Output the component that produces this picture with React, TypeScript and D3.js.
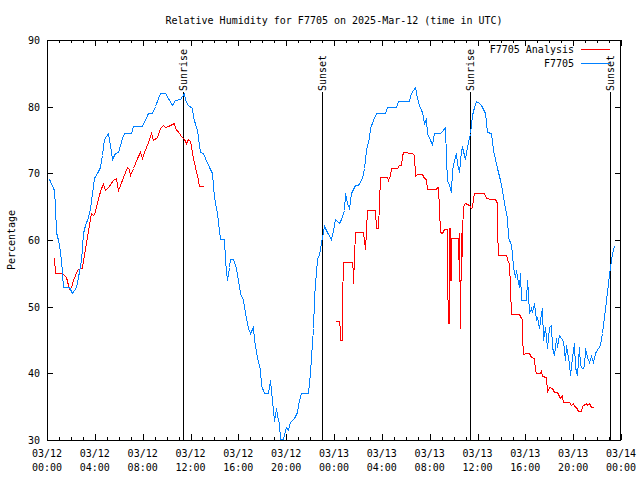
import React from "react";
import * as d3 from "d3";

// ---------- data ----------
const TITLE = "Relative Humidity for F7705 on 2025-Mar-12 (time in UTC)";
const Y_LABEL = "Percentage";
const START_MS = Date.UTC(2025, 2, 12, 0, 0);
const END_MS = Date.UTC(2025, 2, 14, 0, 0);
const yTickValues = [30, 40, 50, 60, 70, 80, 90];
const seriesNames = ["F7705 Analysis", "F7705"];
const seriesColors = ["#ff0000", "#0080ff"];

const sunLabels = ["Sunrise", "Sunset", "Sunrise", "Sunset"];
const sunHours = [11.4, 23.02, 35.4, 47.1];

// Observed station (hours after 03/12 00:00 UTC, %)
const stationHours = [
  0.17, 0.59, 0.67, 0.75, 0.9, 1.03, 1.17, 1.28, 1.37, 1.84, 2.12, 2.4, 2.62, 2.85, 3.04, 3.18, 3.41, 3.6, 3.79, 3.96,
  4.16, 4.44, 4.58, 4.8, 5.13, 5.28, 5.42, 5.7, 5.97, 6.26, 6.45, 7.04, 7.23, 7.98, 8.43, 8.77, 9.05, 9.46, 9.88, 10.16,
  10.44, 10.72, 11.14, 11.42, 11.56, 11.83, 12.12, 12.25, 12.54, 12.76, 13.04, 13.23, 13.51, 13.79, 13.93, 14.21, 14.43, 14.77, 14.85, 15.05,
  15.18, 15.33, 15.55, 15.83, 16.11, 16.39, 16.58, 16.78, 16.94, 17.19, 17.34, 17.56, 17.78, 17.92, 18.17, 18.45, 18.68, 18.84, 18.99, 19.18,
  19.29, 19.37, 19.51, 19.71, 19.87, 20.02, 20.16, 20.35, 20.63, 20.91, 21.1, 21.27, 21.8, 21.97, 22.11, 22.22, 22.3, 22.39, 22.51, 22.61,
  22.78, 22.86, 23.01, 23.17, 23.42, 23.73, 23.89, 24.12, 24.4, 24.62, 24.82, 24.96, 25.08, 25.23, 25.46, 25.74, 26.02, 26.36, 26.49, 26.69,
  26.91, 27.05, 27.24, 27.53, 28.25, 28.45, 29.15, 29.34, 30.26, 30.46, 30.74, 30.9, 31.1, 31.24, 31.37, 31.52, 31.66, 31.8, 32.03, 32.22,
  32.36, 32.86, 33.06, 33.25, 33.33, 33.48, 33.61, 33.75, 33.9, 34.03, 34.17, 34.31, 34.45, 34.59, 34.73, 34.92, 35.15, 35.37, 35.51, 35.71,
  35.91, 36.1, 36.28, 36.63, 36.83, 37.1, 37.33, 37.61, 37.88, 38.08, 38.27, 38.44, 38.55, 38.78, 38.92, 39.0, 39.11, 39.24, 39.39, 39.47,
  39.56, 39.67, 40.03, 40.18, 40.24, 40.31, 40.45, 40.59, 40.73, 40.87, 41.01, 41.15, 41.29, 41.43, 41.51, 41.62, 41.79, 41.99, 42.13, 42.27,
  42.4, 42.54, 42.68, 42.82, 43.19, 43.3, 43.44, 43.61, 43.74, 43.89, 44.03, 44.14, 44.31, 44.45, 44.58, 44.78, 44.89, 45.0, 45.14, 45.33,
  45.48, 45.67, 45.81, 46.04, 46.26, 46.37, 46.54, 46.74, 46.93, 47.1, 47.24, 47.38,
];
const stationRH = [
  69.1, 67.5, 65.0, 61.25, 60, 59.25, 57, 55, 53, 52.9, 52.1, 53, 54.5, 57, 61, 62.25, 63.5, 64.75, 67, 69.25,
  70, 70.9, 72.75, 75.1, 76, 74.25, 72.1, 73.1, 73.25, 75.25, 76.1, 76.1, 77.1, 77.1, 79, 79, 80.1, 82.1, 82, 81.25,
  80.25, 81, 81.1, 82, 81, 80.25, 79.75, 78.5, 76.5, 73.25, 73.1, 72.25, 71, 70.1, 66.5, 64, 60.1, 60.1, 57, 54,
  56, 57.1, 57.1, 55.75, 52, 51, 49, 46.75, 46.1, 47, 45, 42.5, 40.5, 38.25, 37, 37.1, 39, 36, 32.9, 34.75,
  33, 32.5, 30.1, 30.1, 31.5, 32, 31.5, 32.75, 33.25, 34.25, 36, 37, 37, 40, 42.5, 46.75, 51, 53.75, 55, 57.25,
  57.75, 58.75, 60.5, 62.1, 61.25, 60.1, 61.5, 63.1, 62.5, 63.1, 64.5, 67, 65.5, 64.75, 67, 68.25, 68.25, 69.25, 70.75, 73.5,
  75.5, 76.75, 78, 79, 79, 80, 80, 80.9, 80.9, 82.1, 82.9, 81.25, 80.25, 79.5, 79.25, 77.5, 78.1, 76, 75, 74.4,
  76, 76, 76.4, 77, 72.25, 69, 68.25, 67.25, 70.5, 72, 73.1, 71.5, 70.25, 73.5, 74, 72.1, 74, 76, 78.75, 80,
  80.9, 80.5, 80.25, 79, 76.25, 76, 73.5, 70.75, 69, 67.5, 64.75, 63.25, 60.5, 59.25, 58, 56, 54.5, 55.5, 53.75, 53,
  55, 51, 51, 54, 52, 49, 49.75, 49.25, 50.5, 48, 48.5, 46.75, 49, 49.75, 45, 47, 43.75, 47, 47.25, 44,
  42.75, 45.25, 44, 45.75, 44.9, 42, 44.25, 41.5, 39.75, 42.5, 44.5, 41, 39.75, 44, 41.25, 40.75, 41, 43.75, 42.5, 41.75,
  42.6, 41.75, 43, 43.75, 44.25, 46, 48.5, 51, 53.5, 56, 58, 59.1,
];

// Analysis, first segment (03/12 morning)
const analysisHoursA = [
  0.61, 0.71, 1.23, 1.45, 1.63, 1.73, 1.84, 2.01, 2.2, 2.49, 2.76, 2.91, 3.04, 3.24, 3.46, 3.66, 3.81, 3.96, 4.08, 4.3,
  4.52, 4.72, 4.86, 5.13, 5.55, 5.75, 5.92, 6.11, 6.39, 6.68, 6.83, 6.95, 7.23, 7.51, 7.79, 7.93, 8.15, 8.43, 8.71, 8.9,
  9.19, 9.46, 9.69, 9.88, 10.16, 10.44, 10.64, 10.72, 11.0, 11.2, 11.42, 11.64, 11.83, 11.97, 12.12, 12.25, 12.4, 12.54, 12.67, 13.04,
];
const analysisRHA = [
  57.25, 55.1, 55, 54.75, 54.5, 53.25, 52.6, 52.8, 54, 55.5, 55.75, 55.75, 57, 59.5, 61.5, 64, 63.8, 63.9, 65, 66.25,
  67.75, 68.4, 67.5, 68, 69, 69.25, 67.5, 68.25, 69.5, 70.9, 70.7, 69.75, 70.75, 72.25, 73.25, 72.25, 73.25, 74.75, 76, 75,
  75.5, 76.75, 77.25, 76.9, 77.1, 77.4, 77.5, 76.75, 76.1, 75.6, 75.1, 74.6, 75.1, 74.8, 73.25, 72.25, 71, 69.75, 68.1, 68.1,
];

// Analysis, second segment (03/13)
const analysisHoursB = [
  24.07, 24.41, 24.49, 24.54, 24.68, 24.68, 24.77, 25.52, 25.57, 25.63, 25.69, 25.74, 26.41, 26.49, 26.58, 26.69, 26.78, 27.42, 27.53, 27.67,
  27.73, 27.81, 28.4, 28.54, 28.65, 28.73, 29.29, 29.43, 29.57, 29.71, 29.8, 30.55, 30.66, 30.74, 30.9, 31.38, 31.52, 31.66, 31.74, 32.5,
  32.58, 32.71, 32.77, 32.83, 33.06, 33.19, 33.42, 33.48, 33.53, 33.58, 33.64, 33.68, 33.72, 33.76, 33.8, 34.36, 34.42, 34.44, 34.5, 34.55,
  34.6, 34.64, 34.7, 34.76, 34.93, 35.1, 35.29, 35.43, 35.56, 35.66, 35.71, 36.55, 36.69, 37.11, 37.44, 37.61, 37.67, 37.72, 38.36, 38.51,
  38.64, 38.72, 38.84, 39.47, 39.61, 39.7, 39.75, 39.84, 40.03, 40.31, 40.45, 40.73, 40.82, 40.87, 41.23, 41.35, 41.43, 41.71, 41.85, 41.99,
  42.27, 42.4, 42.68, 42.82, 42.93, 43.03, 43.1, 43.19, 43.66, 43.81, 43.95, 44.08, 44.23, 44.37, 44.64, 44.78, 45.06, 45.19, 45.33, 45.48,
  45.7,
];
const analysisRHB = [
  47.85, 47.85, 46.5, 45, 45, 50.9, 56.75, 56.75, 55.25, 53.6, 57.5, 61.25, 61.25, 60, 58.6, 61.5, 64.5, 64.5, 61.75, 61.75,
  65.5, 69.4, 69.4, 69, 69.8, 70.75, 70.75, 71.25, 71.25, 72.6, 73.25, 73.1, 72.8, 69.6, 69.85, 69.85, 69.25, 69.1, 67.6, 67.6,
  67.9, 67.9, 64.6, 61.25, 61.1, 61.6, 61.6, 54.75, 47.5, 47.5, 61.75, 61.75, 54, 54, 60.25, 60.25, 54, 61, 46.75, 46.75,
  61, 54, 61, 65.1, 65.5, 65.4, 65.25, 64.75, 65, 66.1, 67.1, 67.1, 66.25, 66.1, 66.1, 65.5, 61.5, 57.75, 57.75, 56.75,
  56.5, 52.75, 48.9, 48.9, 48.25, 48.2, 45.5, 42.9, 43.1, 43.1, 42.5, 42.3, 40.5, 40.1, 40.1, 40.5, 39.6, 39.5, 37.25, 37.9,
  37.75, 37.25, 37.25, 36.6, 36.3, 36.75, 36.6, 35.75, 35.65, 35.25, 35.5, 35.1, 34.9, 34.4, 34.4, 35.1, 35.5, 35.2, 35.5, 35,
  34.9,
];

// ---------- chart ----------
const W = 640;
const H = 480;
const M = { left: 47, right: 19, top: 40, bottom: 40 };
const FONT = "'DejaVu Sans Mono', 'Liberation Mono', monospace";
const FS = 10;

type Pt = [Date, number];
const toPts = (hours: number[], vals: number[]): Pt[] =>
  hours.map((h, i) => [new Date(START_MS + h * 3600000), vals[i]] as Pt);

export default function App() {
  const x = d3
    .scaleUtc()
    .domain([new Date(START_MS), new Date(END_MS)])
    .range([M.left, W - M.right]);
  const y = d3.scaleLinear().domain([30, 90]).range([H - M.bottom, M.top]);

  const line = d3
    .line<Pt>()
    .x((d) => Math.round(x(d[0])) + 0.5)
    .y((d) => Math.round(y(d[1])) + 0.5);

  const stationPts = toPts(stationHours, stationRH);
  const anaA = toPts(analysisHoursA, analysisRHA);
  const anaB = toPts(analysisHoursB, analysisRHB);

  const majorTicks = x.ticks(d3.utcHour.every(4)!);
  const minorTicks = x.ticks(d3.utcHour.every(1)!);
  const fmtDate = d3.utcFormat("%m/%d");
  const fmtTime = d3.utcFormat("%H:%M");

  const x0 = M.left;
  const x1 = W - M.right;
  const y0 = M.top;
  const y1 = H - M.bottom;
  const px = (v: number) => Math.round(v) + 0.5;

  return (
    <svg width={W} height={H} style={{ position: "absolute", left: 0, top: 0, background: "#fff" }}
      fontFamily={FONT} fontSize={FS}>
      <rect x={0} y={0} width={W} height={H} fill="#fff" />
      <text x={(x0 + x1) / 2} y={24} textAnchor="middle" fill="#000">{TITLE}</text>

      {/* y ticks */}
      {yTickValues.map((v) => (
        <g key={"y" + v}>
          <line x1={x0} x2={x0 + 6} y1={px(y(v))} y2={px(y(v))} stroke="#000" shapeRendering="crispEdges" />
          <line x1={x1 - 6} x2={x1} y1={px(y(v))} y2={px(y(v))} stroke="#000" shapeRendering="crispEdges" />
          <text x={40} y={y(v) + 4} textAnchor="end" fill="#000">{v}</text>
        </g>
      ))}

      {/* x ticks */}
      {minorTicks.map((t, i) => (
        <g key={"mx" + i}>
          <line x1={px(x(t))} x2={px(x(t))} y1={y1} y2={y1 - 3} stroke="#000" shapeRendering="crispEdges" />
          <line x1={px(x(t))} x2={px(x(t))} y1={y0} y2={y0 + 3} stroke="#000" shapeRendering="crispEdges" />
        </g>
      ))}
      {majorTicks.map((t, i) => (
        <g key={"x" + i}>
          <line x1={px(x(t))} x2={px(x(t))} y1={y1} y2={y1 - 6} stroke="#000" shapeRendering="crispEdges" />
          <line x1={px(x(t))} x2={px(x(t))} y1={y0} y2={y0 + 6} stroke="#000" shapeRendering="crispEdges" />
          <text x={x(t)} y={457} textAnchor="middle" fill="#000">{fmtDate(t)}</text>
          <text x={x(t)} y={471} textAnchor="middle" fill="#000">{fmtTime(t)}</text>
        </g>
      ))}

      <text transform={`translate(15,${(y0 + y1) / 2}) rotate(-90)`} textAnchor="middle" fill="#000">{Y_LABEL}</text>

      {/* sunrise / sunset */}
      {sunHours.map((h, i) => {
        const sx = x(new Date(START_MS + h * 3600000));
        return (
          <g key={"sun" + i}>
            <line x1={px(sx)} x2={px(sx)} y1={92} y2={y1} stroke="#000" shapeRendering="crispEdges" />
            <text transform={`translate(${sx + 4},91) rotate(-90)`} textAnchor="start" fill="#000">{sunLabels[i]}</text>
          </g>
        );
      })}

      {/* series */}
      <path d={line(anaA) || ""} fill="none" stroke={seriesColors[0]} strokeWidth={1} shapeRendering="crispEdges" />
      <path d={line(anaB) || ""} fill="none" stroke={seriesColors[0]} strokeWidth={1} shapeRendering="crispEdges" />
      <path d={line(stationPts) || ""} fill="none" stroke={seriesColors[1]} strokeWidth={1} shapeRendering="crispEdges" />

      {/* legend */}
      {seriesNames.map((n, i) => (
        <g key={"lg" + i}>
          <text x={574} y={53 + i * 13.5} textAnchor="end" fill="#000">{n}</text>
          <line x1={581} x2={610} y1={49.5 + i * 13.5} y2={49.5 + i * 13.5} stroke={seriesColors[i]} strokeWidth={1} shapeRendering="crispEdges" />
        </g>
      ))}

      {/* border */}
      <rect x={x0 + 0.5} y={y0 + 0.5} width={x1 - x0 - 1} height={y1 - y0} fill="none" stroke="#000" shapeRendering="crispEdges" />
    </svg>
  );
}
